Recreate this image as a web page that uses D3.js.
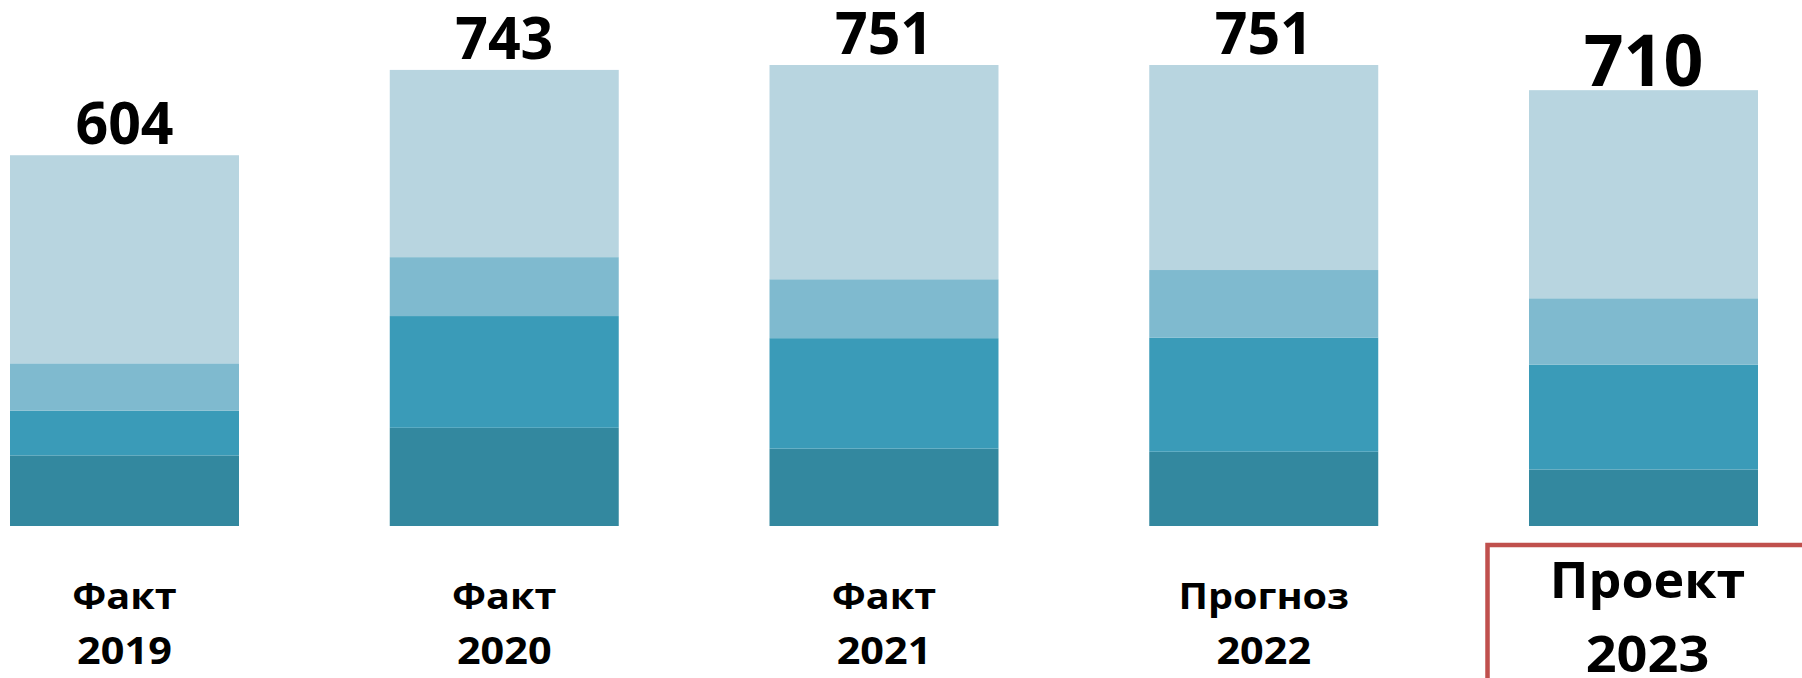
<!DOCTYPE html>
<html>
<head>
<meta charset="utf-8">
<script src="https://cdn.jsdelivr.net/npm/d3@7"></script>
<style>
  html, body { margin: 0; padding: 0; background: #ffffff; }
  svg { display: block; }
  text { font-family: "Open Sans", "Noto Sans", sans-serif; font-weight: 700; fill: #000; }
</style>
</head>
<body>
<svg id="chart" width="1802" height="678"></svg>
<script>
// ---- data ----
const categoryType = ["Факт", "Факт", "Факт", "Прогноз", "Проект"];
const categoryYear = ["2019", "2020", "2021", "2022", "2023"];
const totals = [604, 743, 751, 751, 710];
// stacked from bottom to top
const series1 = [115, 160, 126, 121, 92];
const series2 = [73, 182, 180, 186, 171];
const series3 = [77, 96, 96, 110, 108];
const series4 = [339, 305, 349, 334, 339];
const highlightIndex = 4;

const seriesKeys = ["s1", "s2", "s3", "s4"];
const colors = ["#33889F", "#3A9BB8", "#7FBACF", "#B8D5E0"];

const rows = categoryYear.map((c, i) => ({
  cat: c, s1: series1[i], s2: series2[i], s3: series3[i], s4: series4[i]
}));

const svg = d3.select("#chart");

const x = d3.scaleBand()
  .domain(categoryYear)
  .range([10, 1758])
  .paddingInner(0.397)
  .paddingOuter(0);

const y = d3.scaleLinear()
  .domain([0, 751])
  .range([526, 65]);

const stack = d3.stack().keys(seriesKeys);
const stacked = stack(rows);

svg.append("g").selectAll("g")
  .data(stacked)
  .join("g")
  .attr("fill", (d, i) => colors[i])
  .selectAll("rect")
  .data(d => d)
  .join("rect")
  .attr("x", d => x(d.data.cat))
  .attr("width", x.bandwidth())
  .attr("y", d => y(d[1]))
  .attr("height", d => y(d[0]) - y(d[1]));

// value labels
svg.append("g").selectAll("text")
  .data(totals)
  .join("text")
  .attr("text-anchor", "middle")
  .attr("transform", (d, i) => {
    const cx = x(categoryYear[i]) + x.bandwidth() / 2;
    const cy = y(d) - (i === highlightIndex ? 4 : 11);
    return `translate(${cx},${cy}) scale(0.97,1)`;
  })
  .style("font-size", (d, i) => (i === highlightIndex ? 72 : 59) + "px")
  .text(d => d);

// category labels
const catG = svg.append("g").selectAll("g")
  .data(categoryYear)
  .join("g")
  .attr("transform", (d, i) => `translate(${x(d) + x.bandwidth() / 2},0)`);

catG.append("text")
  .attr("text-anchor", "middle")
  .attr("transform", (d, i) => i === highlightIndex ? "translate(4,598) scale(1.02,1)" : "translate(0,609) scale(1.1,1)")
  .style("font-size", (d, i) => (i === highlightIndex ? 51 : 36) + "px")
  .text((d, i) => categoryType[i]);

catG.append("text")
  .attr("text-anchor", "middle")
  .attr("transform", (d, i) => i === highlightIndex ? "translate(4,672) scale(1.06,1)" : "translate(0,664) scale(1.12,1)")
  .style("font-size", (d, i) => (i === highlightIndex ? 51 : 37) + "px")
  .text(d => d);

// highlight frame around the project label
const hx = x(categoryYear[highlightIndex]);
svg.append("path")
  .attr("d", `M${hx - 41.5},690 V545 H1820`)
  .attr("fill", "none")
  .attr("stroke", "#C0504D")
  .attr("stroke-width", 4.5);
</script>
</body>
</html>
